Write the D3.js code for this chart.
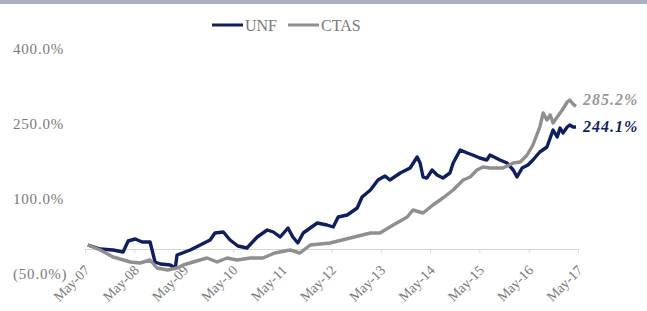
<!DOCTYPE html>
<html><head><meta charset="utf-8">
<script src="https://cdn.jsdelivr.net/npm/d3@7"></script>
<style>body{margin:0;background:#fff}svg{display:block}</style>
</head><body>
<svg id="c" width="647" height="311"></svg>
<script>
// months since May 2007
const unfMonths = [0.7,3.7,6.8,9.2,10.5,12.2,13.9,15.8,17.0,18.3,20.7,21.9,22.4,25.6,28.0,30.4,31.6,33.6,35.3,37.2,39.4,41.9,44.3,45.8,47.5,49.4,50.6,51.8,53.1,56.5,58.9,60.4,61.6,63.8,66.2,67.4,69.4,71.3,73.0,74.2,76.7,79.1,80.8,81.5,82.3,83.2,84.5,85.7,87.1,88.8,89.6,91.3,93.0,94.4,96.1,97.8,98.6,101.0,102.7,104.2,105.1,106.4,107.8,109.0,110.7,112.4,113.2,113.9,114.9,115.6,116.3,117.3,118.0,118.8,119.5];
const unfValues = [8,0,-2,-6,16,20,14,14,-26,-30,-32,-38,-12,-2,8,18,32,34,18,6,2,24,38,34,24,42,24,12,32,52,48,44,64,68,82,104,118,138,146,138,152,162,184,172,144,142,158,148,142,152,172,198,192,188,182,178,188,178,172,158,144,162,168,178,194,204,222,238,224,242,232,244,248,244,244.1];
const ctasMonths = [0.7,3.7,6.8,11.0,13.4,15.8,17.5,20.0,22.4,23.9,26.3,29.7,32.1,34.6,37.0,40.2,43.3,46.2,49.9,52.3,54.8,59.6,64.5,69.4,71.8,75.0,78.4,79.8,82.3,84.7,87.1,89.6,92.0,93.7,95.4,96.9,98.6,101.7,104.2,105.9,107.6,109.0,110.7,111.5,112.4,113.2,113.9,114.9,116.1,117.3,118.0,118.8,119.5];
const ctasValues = [8,-2,-16,-26,-28,-22,-38,-42,-38,-32,-26,-18,-26,-18,-22,-18,-18,-8,-2,-8,8,12,22,32,32,48,64,78,72,88,102,118,138,144,158,164,162,162,172,174,188,208,244,272,258,268,252,264,278,294,298,290,285.2];
const yTicks = [-50,100,250,400];
const xTickYears = [2007,2008,2009,2010,2011,2012,2013,2014,2015,2016,2017];
const seriesNames = ["UNF","CTAS"];
const endLabels = ["244.1%","285.2%"];

const toDate = m => { const whole = Math.floor(m); const frac = m - whole; return new Date(2007, 4 + whole, 1 + Math.round(frac * 30)); };
const unf = unfMonths.map((m,i)=>({d:toDate(m), v:unfValues[i]}));
const ctas = ctasMonths.map((m,i)=>({d:toDate(m), v:ctasValues[i]}));

const svg = d3.select("#c");
const x = d3.scaleTime().domain([new Date(2007,4,1), new Date(2017,4,1)]).range([85,578]);
const y = d3.scaleLinear().domain([-50,400]).range([274,49]);
const serif = "'Liberation Serif','Times New Roman',serif";

svg.append("rect").attr("x",0).attr("y",0).attr("width",647).attr("height",4).attr("fill","#aaaec2");

// y labels
svg.append("g").selectAll("text").data(yTicks).join("text")
  .attr("x",13).attr("y",d=>y(d)).attr("dy","0.35em")
  .attr("font-family",serif).attr("font-size",15).attr("letter-spacing","0.8px").attr("fill","#7a7a7a")
  .text(d=> d<0 ? "("+Math.abs(d).toFixed(1)+"%)" : d.toFixed(1)+"%");

// x axis at 0
const xAxis = d3.axisBottom(x).tickValues(xTickYears.map(yr=>new Date(yr,4,1))).tickSize(4).tickFormat(d3.timeFormat("%b-%y"));
const gx = svg.append("g").attr("transform",`translate(0,${y(0)})`).call(xAxis);
gx.select(".domain").attr("stroke","#d6d6d6");
gx.selectAll(".tick line").attr("stroke","#d6d6d6");
gx.selectAll(".tick text").attr("font-family",serif).attr("font-size",14).attr("fill","#7a7a7a")
  .attr("text-anchor","end").attr("y",0).attr("dy",0)
  .attr("transform","translate(5,22) rotate(-45)");

const line = d3.line().x(d=>x(d.d)).y(d=>y(d.v));
svg.append("path").datum(unf).attr("d",line).attr("fill","none").attr("stroke","#0f1f5e").attr("stroke-width",3.4).attr("stroke-linejoin","round");
svg.append("path").datum(ctas).attr("d",line).attr("fill","none").attr("stroke","#8f8f8f").attr("stroke-width",3.4).attr("stroke-linejoin","round");

// end labels
svg.append("text").attr("x",583).attr("y",y(unfValues[unfValues.length-1])).attr("dy","0.3em")
  .attr("font-family",serif).attr("font-size",16).attr("font-style","italic").attr("font-weight","bold").attr("letter-spacing","1px")
  .attr("fill","#0f1f5e").text(endLabels[0]);
svg.append("text").attr("x",583).attr("y",y(ctasValues[ctasValues.length-1])-6).attr("dy","0.3em")
  .attr("font-family",serif).attr("font-size",16).attr("font-style","italic").attr("font-weight","bold").attr("letter-spacing","1px")
  .attr("fill","#999999").text(endLabels[1]);

// legend
const lg = svg.append("g");
const lcol = ["#0f1f5e","#8f8f8f"];
const lx = [212,288];
seriesNames.forEach((n,i)=>{
  lg.append("line").attr("x1",lx[i]).attr("x2",lx[i]+31).attr("y1",25).attr("y2",25).attr("stroke",lcol[i]).attr("stroke-width",3);
  lg.append("text").attr("x",lx[i]+33).attr("y",25).attr("dy","0.35em").attr("font-family",serif).attr("font-size",16).attr("fill","#7a7a7a").text(n);
});
</script>
</body></html>
